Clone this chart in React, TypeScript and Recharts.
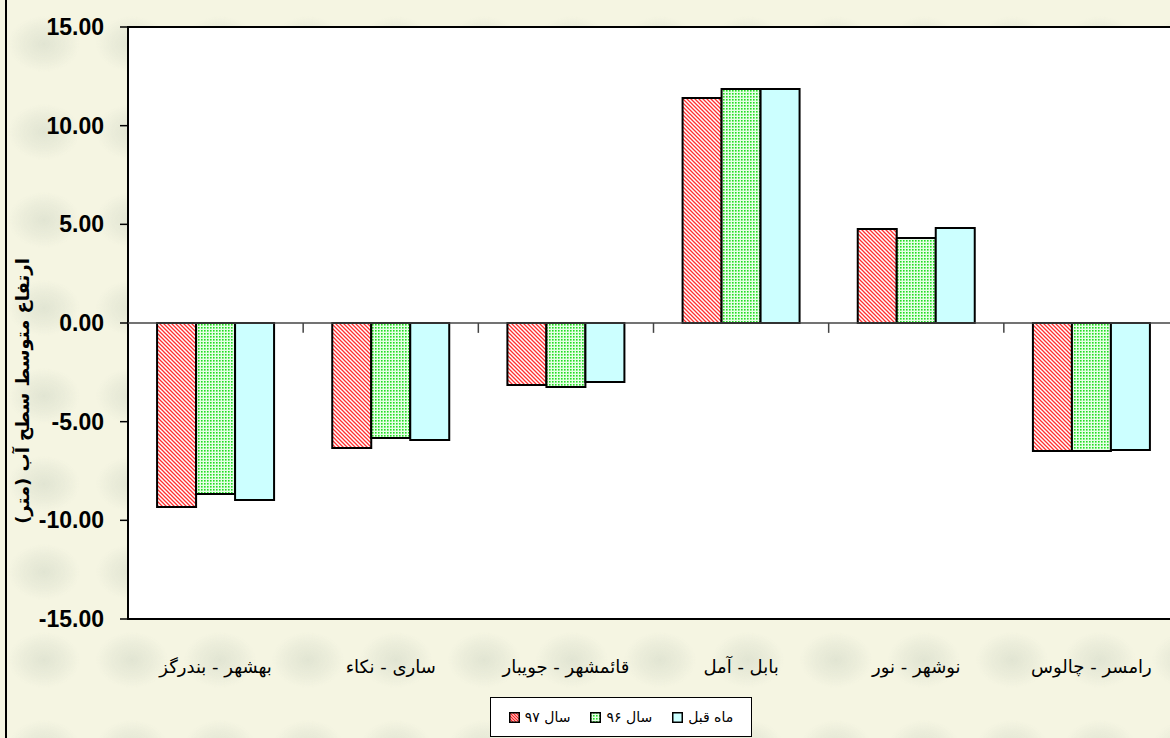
import { Bar, BarChart, CartesianGrid, ReferenceArea, ReferenceLine, XAxis, YAxis } from "recharts";

// station pairs, left to right as drawn
const categories = [
  "بهشهر - بندرگز",
  "ساری - نکاء",
  "قائمشهر - جویبار",
  "بابل - آمل",
  "نوشهر - نور",
  "رامسر - چالوس",
];

const year97 = [-9.33, -6.34, -3.14, 11.4, 4.76, -6.49];
const year96 = [-8.67, -5.83, -3.24, 11.86, 4.31, -6.49];
const lastMonth = [-8.97, -5.93, -2.99, 11.86, 4.81, -6.44];

const yTicks = [-15, -10, -5, 0, 5, 10, 15];

const seriesNames = ["سال ۹۷", "سال ۹۶", "ماه قبل"];

const data = categories.map((name, i) => ({
  name,
  y97: year97[i],
  y96: year96[i],
  prev: lastMonth[i],
}));

const persianFont = "'DejaVu Sans', 'Noto Sans', sans-serif";

const YLabel = (props: any) => {
  const vb = props.viewBox || { x: 0, y: 0, height: 0 };
  const x = vb.x + 22;
  const y = vb.y + vb.height / 2 + 68;
  return (
    <text
      x={x}
      y={y}
      transform={`rotate(-90 ${x} ${y})`}
      textAnchor="middle"
      dominantBaseline="central"
      fontFamily={persianFont}
      fontWeight="bold"
      fontSize={18}
      fill="#000"
    >
      ارتفاع متوسط سطح آب (متر)
    </text>
  );
};

function LegendSwatch({ fill }: { fill: string }) {
  return (
    <svg width={11} height={11} style={{ display: "inline-block", verticalAlign: "middle" }}>
      <rect x={0.75} y={0.75} width={9.5} height={9.5} fill={fill} stroke="#000" strokeWidth={1.5} />
    </svg>
  );
}

export default function App() {
  const legendItems = [
    { name: seriesNames[2], fill: "#ccffff" },
    { name: seriesNames[1], fill: "url(#dotGreenL)" },
    { name: seriesNames[0], fill: "url(#hatchRedL)" },
  ];

  return (
    <div
      style={{
        position: "absolute",
        left: 0,
        top: 0,
        width: 1170,
        height: 738,
        overflow: "hidden",
        backgroundColor: "#f5f5e2",
        backgroundImage:
          "radial-gradient(ellipse 36px 28px at 50% 50%, rgba(222,226,208,0.85) 0%, rgba(222,226,208,0.4) 60%, transparent 100%)",
        backgroundSize: "88px 88px",
      }}
    >
      {/* frame line on the left edge */}
      <div style={{ position: "absolute", left: 5, top: 0, width: 2, height: 738, background: "#000" }} />

      <svg width={0} height={0} style={{ position: "absolute" }}>
        <defs>
          <pattern id="hatchRedL" patternUnits="userSpaceOnUse" width={3} height={3}>
            <rect width={3} height={3} fill="#ffffff" />
            <path d="M-1,-1 L4,4 M-1,2 L1,4 M2,-1 L4,1" stroke="#ff2020" strokeWidth={1.3} />
          </pattern>
          <pattern id="dotGreenL" patternUnits="userSpaceOnUse" width={3} height={3}>
            <rect width={3} height={3} fill="#e6ffe6" />
            <rect x={0} y={0} width={1.6} height={1.6} fill="#22dd22" />
          </pattern>
        </defs>
      </svg>

      <BarChart
        width={1180}
        height={738}
        data={data}
        margin={{ top: 27, right: 1, left: 0, bottom: 89 }}
        barCategoryGap="16.6%"
        barGap={0}
      >
        <defs>
          <pattern id="hatchRed" patternUnits="userSpaceOnUse" width={4} height={4}>
            <rect width={4} height={4} fill="#ffffff" />
            <path d="M-1,-1 L5,5 M-1,3 L1,5 M3,-1 L5,1" stroke="#ff3030" strokeWidth={1.3} />
          </pattern>
          <pattern id="dotGreen" patternUnits="userSpaceOnUse" width={3} height={3}>
            <rect width={3} height={3} fill="#e6ffe6" />
            <rect x={0} y={0} width={1.6} height={1.6} fill="#22dd22" />
          </pattern>
        </defs>
        <CartesianGrid fill="#ffffff" horizontal={false} vertical={false} />
        <XAxis
          dataKey="name"
          height={30}
          axisLine={false}
          tickLine={false}
          tickSize={0}
          tickMargin={41}
          interval={0}
          tick={{ fontSize: 18, fill: "#000", fontFamily: persianFont }}
        />
        <YAxis
          domain={[-15, 15]}
          ticks={yTicks}
          width={128}
          axisLine={false}
          tickLine={{ stroke: "#000", strokeWidth: 1.5 }}
          tickSize={8}
          tickMargin={16}
          tickFormatter={(v: number) => v.toFixed(2)}
          tick={{ fontSize: 23, fontWeight: "bold", fill: "#000", fontFamily: "'Liberation Sans', Arial, sans-serif" }}
          label={<YLabel />}
        />
        <ReferenceLine y={0} stroke="#444" strokeWidth={1.5} />
        {categories.slice(1).map((c) => (
          <ReferenceLine
            key={c}
            segment={[
              { x: c, y: 0 },
              { x: c, y: -0.5 },
            ]}
            position="start"
            stroke="#444"
            strokeWidth={1.5}
          />
        ))}
        <Bar dataKey="y97" name={seriesNames[0]} fill="url(#hatchRed)" stroke="#000" strokeWidth={2} isAnimationActive={false} />
        <Bar dataKey="y96" name={seriesNames[1]} fill="url(#dotGreen)" stroke="#000" strokeWidth={2} isAnimationActive={false} />
        <Bar dataKey="prev" name={seriesNames[2]} fill="#ccffff" stroke="#000" strokeWidth={2} isAnimationActive={false} />
        <ReferenceArea y1={-15} y2={15} fill="none" stroke="#000" strokeWidth={2} ifOverflow="visible" />
      </BarChart>

      <div
        style={{
          position: "absolute",
          left: 490,
          top: 697,
          width: 262,
          height: 40,
          boxSizing: "border-box",
          background: "#fff",
          border: "1px solid #000",
          direction: "rtl",
          display: "flex",
          alignItems: "center",
          justifyContent: "center",
          gap: 20,
          fontFamily: persianFont,
          fontSize: 14,
        }}
      >
        {legendItems.map((it) => (
          <span key={it.name} style={{ display: "inline-flex", alignItems: "center", gap: 5 }}>
            <span>{it.name}</span>
            <LegendSwatch fill={it.fill} />
          </span>
        ))}
      </div>
    </div>
  );
}
